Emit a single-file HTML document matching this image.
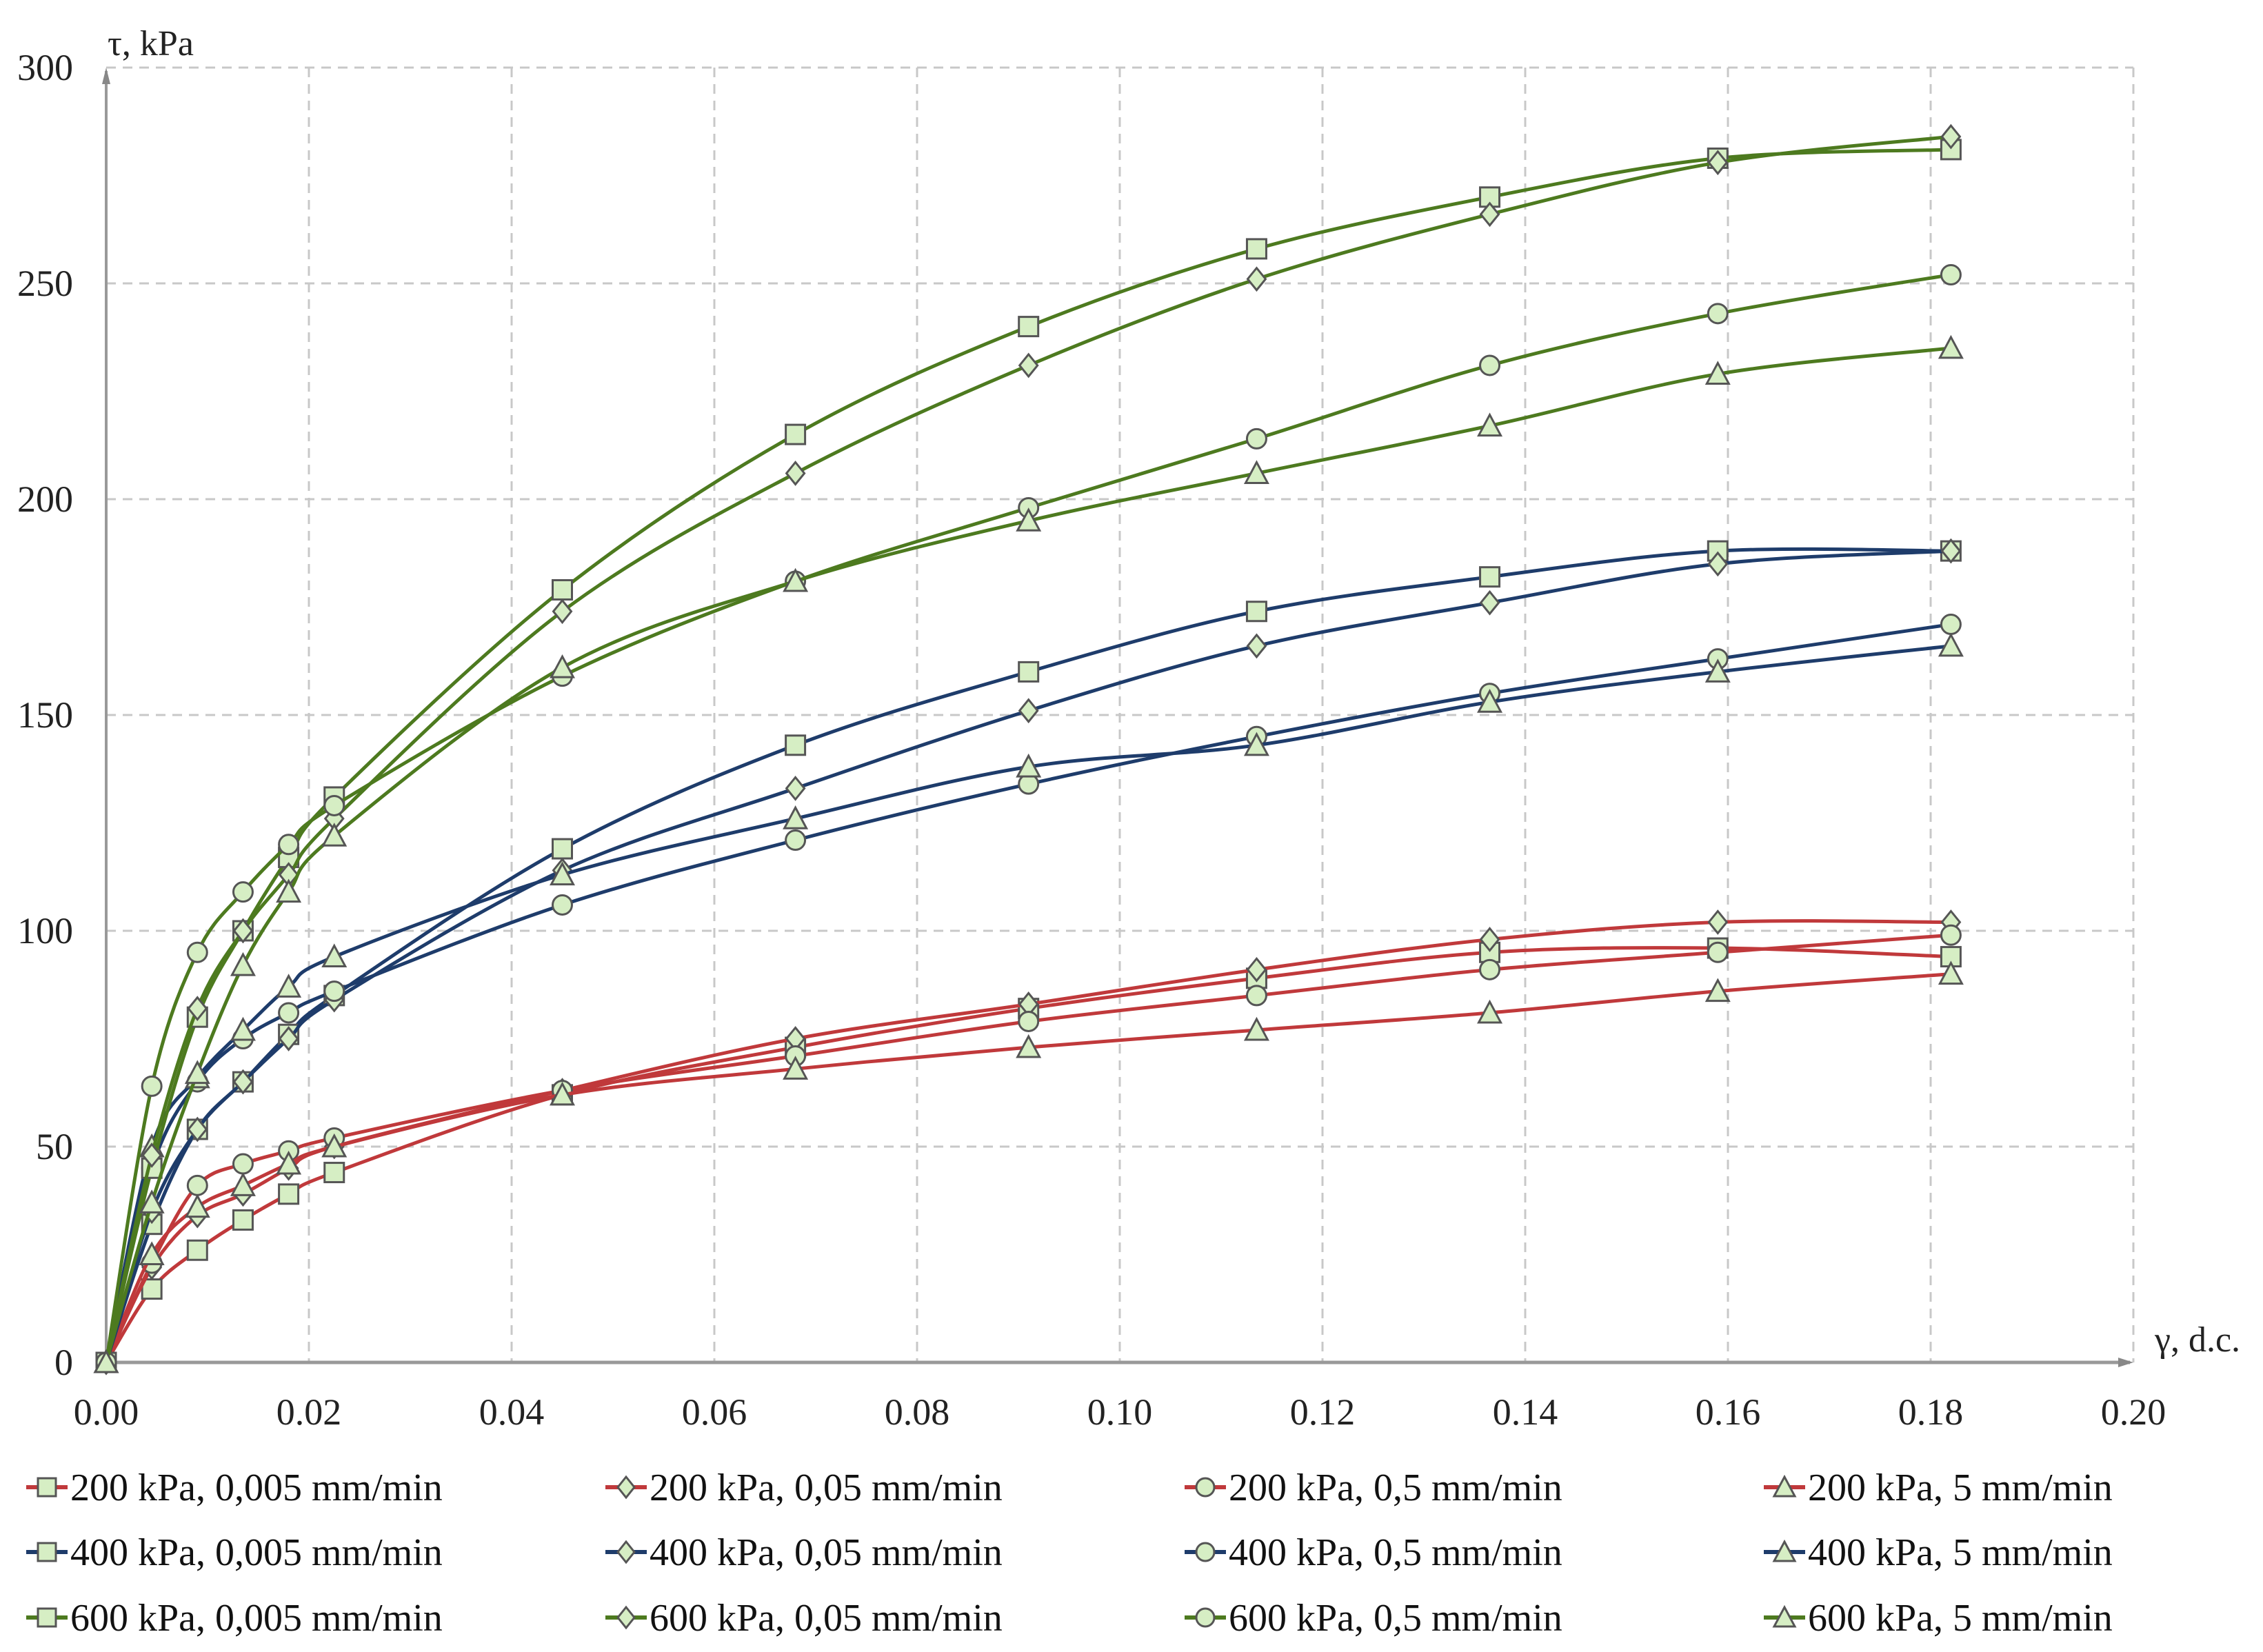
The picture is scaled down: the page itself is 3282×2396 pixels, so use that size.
<!DOCTYPE html>
<html><head><meta charset="utf-8">
<style>
html,body{margin:0;padding:0;background:#fff;}
svg{display:block;font-family:"Liberation Serif",serif;}
</style></head>
<body>
<svg id="chart" width="3282" height="2396" viewBox="0 0 3282 2396" xmlns="http://www.w3.org/2000/svg">
<g id="grid"></g>
<g id="axes"></g>
<g id="series"></g>
<g id="legend"></g>
</svg>
<script>
const xValues = [0, 0.0045, 0.009, 0.0135, 0.018, 0.0225, 0.045, 0.068, 0.091, 0.1135, 0.1365, 0.159, 0.182];
const s600_0005 = [0, 45, 80, 100, 117, 131, 179, 215, 240, 258, 270, 279, 281];
const s600_005 = [0, 48, 82, 100, 113, 126, 174, 206, 231, 251, 266, 278, 284];
const s600_05 = [0, 64, 95, 109, 120, 129, 159, 181, 198, 214, 231, 243, 252];
const s600_5 = [0, 37, 67, 92, 109, 122, 161, 181, 195, 206, 217, 229, 235];
const s400_0005 = [0, 32, 54, 65, 76, 85, 119, 143, 160, 174, 182, 188, 188];
const s400_005 = [0, 35, 54, 65, 75, 84, 114, 133, 151, 166, 176, 185, 188];
const s400_05 = [0, 45, 65, 75, 81, 86, 106, 121, 134, 145, 155, 163, 171];
const s400_5 = [0, 50, 66, 77, 87, 94, 113, 126, 138, 143, 153, 160, 166];
const s200_0005 = [0, 17, 26, 33, 39, 44, 62, 73, 82, 89, 95, 96, 94];
const s200_005 = [0, 22, 34, 39, 45, 50, 63, 75, 83, 91, 98, 102, 102];
const s200_05 = [0, 23, 41, 46, 49, 52, 63, 71, 79, 85, 91, 95, 99];
const s200_5 = [0, 25, 36, 41, 46, 50, 62, 68, 73, 77, 81, 86, 90];
const xTicks = ["0.00","0.02","0.04","0.06","0.08","0.10","0.12","0.14","0.16","0.18","0.20"];
const yTicks = [0, 50, 100, 150, 200, 250, 300];

const NS = "http://www.w3.org/2000/svg";
const X0 = 154, XS = 14700, Y0 = 1976, YS = 6.26;
function sx(v){ return X0 + v * XS; }
function sy(v){ return Y0 - v * YS; }
function mk(tag, attrs, parent){ const e = document.createElementNS(NS, tag); for (const k in attrs) e.setAttribute(k, attrs[k]); parent.appendChild(e); return e; }

const RED = "#c0393b", BLUE = "#1e3c6b", GREEN = "#4d7a1f";
const seriesList = [
  {d:s200_0005, c:RED, m:"square", l:"200 kPa, 0,005 mm/min"},
  {d:s200_005, c:RED, m:"diamond", l:"200 kPa, 0,05 mm/min"},
  {d:s200_05, c:RED, m:"circle", l:"200 kPa, 0,5 mm/min"},
  {d:s200_5, c:RED, m:"triangle", l:"200 kPa, 5 mm/min"},
  {d:s400_0005, c:BLUE, m:"square", l:"400 kPa, 0,005 mm/min"},
  {d:s400_005, c:BLUE, m:"diamond", l:"400 kPa, 0,05 mm/min"},
  {d:s400_05, c:BLUE, m:"circle", l:"400 kPa, 0,5 mm/min"},
  {d:s400_5, c:BLUE, m:"triangle", l:"400 kPa, 5 mm/min"},
  {d:s600_0005, c:GREEN, m:"square", l:"600 kPa, 0,005 mm/min"},
  {d:s600_005, c:GREEN, m:"diamond", l:"600 kPa, 0,05 mm/min"},
  {d:s600_05, c:GREEN, m:"circle", l:"600 kPa, 0,5 mm/min"},
  {d:s600_5, c:GREEN, m:"triangle", l:"600 kPa, 5 mm/min"}
];

const grid = document.getElementById('grid');
for (let i = 1; i < xTicks.length; i++) {
  const x = sx(parseFloat(xTicks[i]));
  const g = mk('line', {x1:x, y1:sy(300), x2:x, y2:Y0, stroke:"#c8c8c8", "stroke-width":3, "stroke-dasharray":"14 10"}, grid);
  
  
}
for (let i = 1; i < yTicks.length; i++) {
  const y = sy(yTicks[i]);
  const g = mk('line', {x1:X0, y1:y, x2:sx(0.2), y2:y, stroke:"#c8c8c8", "stroke-width":3, "stroke-dasharray":"14 10"}, grid);
  
  
}

const axes = document.getElementById('axes');
let a = mk('line', {x1:X0, y1:Y0, x2:sx(0.2)-5, y2:Y0, stroke:"#999", "stroke-width":5}, axes);
 
a = mk('polygon', {points:`${sx(0.2)},${Y0} ${sx(0.2)-22},${Y0-7} ${sx(0.2)-22},${Y0+7}`, fill:"#888"}, axes);
 
a = mk('line', {x1:X0, y1:Y0, x2:X0, y2:sy(300)+5, stroke:"#999", "stroke-width":4}, axes);
 
a = mk('polygon', {points:`${X0},${sy(300)} ${X0-6},${sy(300)+24} ${X0+6},${sy(300)+24}`, fill:"#888"}, axes);
 
xTicks.forEach(t => {
  const e = mk('text', {x:sx(parseFloat(t)), y:2066, "text-anchor":"middle", "font-size":54, fill:"#222"}, axes);
  e.textContent = t;
   
});
yTicks.forEach(t => {
  const e = mk('text', {x:106, y:sy(t)+18, "text-anchor":"end", "font-size":54, fill:"#222"}, axes);
  e.textContent = t;
   
});
a = mk('text', {x:156, y:80, "font-size":52, fill:"#222"}, axes);
a.textContent = "τ, kPa";
 
a = mk('text', {x:3125, y:1960, "font-size":52, fill:"#222"}, axes);
a.textContent = "γ, d.c.";
 

function pathFor(pts){
  let d = `M${pts[0][0]},${pts[0][1]}`;
  for (let i = 0; i < pts.length - 1; i++) {
    const p0 = pts[Math.max(0,i-1)], p1 = pts[i], p2 = pts[i+1], p3 = pts[Math.min(pts.length-1,i+2)];
    const t = 6;
    const c1 = [p1[0] + (p2[0]-p0[0])/t, p1[1] + (p2[1]-p0[1])/t];
    const c2 = [p2[0] - (p3[0]-p1[0])/t, p2[1] - (p3[1]-p1[1])/t];
    d += ` C${c1[0]},${c1[1]} ${c2[0]},${c2[1]} ${p2[0]},${p2[1]}`;
  }
  return d;
}
function marker(type, x, y, parent, size){
  const st = {fill:"#d6eec4", stroke:"#555", "stroke-width":3};
  const r = size/2;
  let e;
  if (type === "square") e = mk('rect', Object.assign({x:x-r, y:y-r, width:size, height:size}, st), parent);
  else if (type === "circle") e = mk('circle', Object.assign({cx:x, cy:y, r:r}, st), parent);
  else if (type === "diamond") e = mk('polygon', Object.assign({points:`${x},${y-r-2} ${x+r-1},${y} ${x},${y+r+2} ${x-r+1},${y}`}, st), parent);
  else e = mk('polygon', Object.assign({points:`${x},${y-r-2} ${x+r+2},${y+r} ${x-r-2},${y+r}`}, st), parent);
  return e;
}

const series = document.getElementById('series');
seriesList.forEach((s, idx) => {
  const g = mk('g', {}, series);
  
  
  const pts = xValues.map((x, i) => [sx(x), sy(s.d[i])]);
  const p = mk('path', {d:pathFor(pts), fill:"none", stroke:s.c, "stroke-width":5}, g);
  
  
  pts.forEach(pt => {
    const m = marker(s.m, pt[0], pt[1], g, 28);
    
    
  });
});

const legend = document.getElementById('legend');
const colX = [38, 878, 1718, 2558], rowY = [2157, 2251, 2346];
seriesList.forEach((s, idx) => {
  const col = idx % 4, row = Math.floor(idx / 4);
  const x = colX[col], y = rowY[row];
  const g = mk('g', {}, legend);
  
  
  mk('line', {x1:x, y1:y, x2:x+60, y2:y, stroke:s.c, "stroke-width":6}, g);
  marker(s.m, x+30, y, g, 26);
  const t = mk('text', {x:x+64, y:y+19, "font-size":56, fill:"#111"}, g);
  t.textContent = s.l;
});
</script>
</body></html>
